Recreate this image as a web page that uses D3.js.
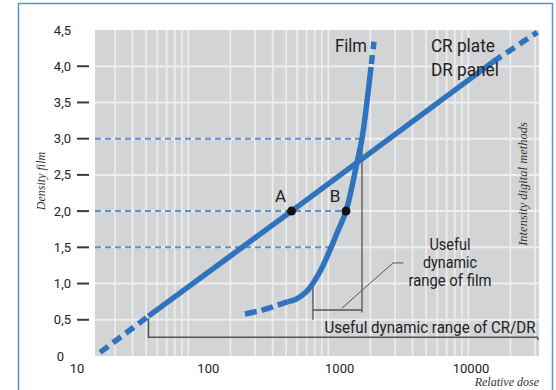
<!DOCTYPE html>
<html><head><meta charset="utf-8">
<script src="https://cdn.jsdelivr.net/npm/d3@7"></script>
<style>
body{margin:0;background:#fff;}
svg{display:block;}
.cond{font-family:"Roboto","Liberation Sans",sans-serif;}
.ser{font-family:"Liberation Serif","DejaVu Serif",serif;font-style:italic;}
</style></head>
<body><svg id="c" width="556" height="390"></svg>
<script>
// ---- data ----
const xTickValues = [10, 100, 1000, 10000];
const xTickLabels = ["10", "100", "1000", "10000"];
const yTickValues = [0, 0.5, 1, 1.5, 2, 2.5, 3, 3.5, 4, 4.5];
const yTickLabels = ["0", "0,5", "1,0", "1,5", "2,0", "2,5", "3,0", "3,5", "4,0", "4,5"];
// CR/DR straight line (dose, density)
const crDashLowDose = [15, 35];
const crDashLowDens = [0.05, 0.55];
const crSolidDose = [35, 430, 14700];
const crSolidDens = [0.55, 2.0, 4.06];
const crDashHighDose = [14700, 32000];
const crDashHighDens = [4.06, 4.47];
// Film curve
const filmDashLowDose = [190, 250, 300, 404];
const filmDashLowDens = [0.58, 0.625, 0.67, 0.75];
const filmSolidDose = [404, 460, 520, 580, 640, 720, 801, 880, 955, 1117, 1355, 1479, 1733];
const filmSolidDens = [0.75, 0.78, 0.84, 0.92, 1.03, 1.19, 1.37, 1.54, 1.70, 2.0, 2.67, 3.0, 3.99];
const filmDashHighDose = [1733, 1824];
const filmDashHighDens = [3.99, 4.34];
// Marked points
const pointNames = ["A", "B"];
const pointDose = [430, 1117];
const pointDens = [2.0, 2.0];
// Dashed reference levels (density, dose where they end)
const refDens = [3.0, 2.0, 1.5];
const refEndDose = [1479, 1117, 850];
// Dynamic ranges
const filmRangeDose = [626, 1479];
const filmRangeDens = [1.0, 3.0];
const crRangeDose = [35, 32000];

// ---- layout ----
const svg = d3.select("#c");
const W = 556, H = 390;
const plotL = 95, plotR = 539, plotT = 30, plotB = 356;
const x = d3.scaleLog().domain([10, 10000]).range([77, 471]);
const y = d3.scaleLinear().domain([0, 4.5]).range([plotB, plotT]);
// grid follows its own logarithmic spacing in the original artwork
const gx = d3.scaleLog().domain([1, 1000]).range([48.3, 468.3]);

const blue = "#2f73bf", blueDash = "#5a8fd1", gray = "#555";

// outer frame
svg.append("path").attr("d", `M18.5,${H+5} V3.5 H552.5 V${H+5}`)
  .attr("fill", "none").attr("stroke", "#5b8fcf").attr("stroke-width", 1.5);

// plot background
svg.append("rect").attr("x", plotL).attr("y", plotT).attr("width", plotR - plotL).attr("height", plotB - plotT)
  .attr("fill", "#d3d4d6");

// vertical grid
const gridVals = [];
[1, 10, 100, 1000].forEach(d => { for (let k = 1; k < 10; k++) gridVals.push(d * k); });
svg.append("g").selectAll("line").data(gridVals.filter(v => gx(v) > plotL + 2 && gx(v) < plotR - 2))
  .join("line").attr("x1", d => gx(d)).attr("x2", d => gx(d)).attr("y1", plotT).attr("y2", plotB)
  .attr("stroke", "#eeeeee").attr("stroke-width", 1.6);
// horizontal grid
svg.append("g").selectAll("line").data(yTickValues.filter(v => v > 0 && v < 4.5))
  .join("line").attr("x1", plotL).attr("x2", plotR).attr("y1", d => y(d)).attr("y2", d => y(d))
  .attr("stroke", "#eeeeee").attr("stroke-width", 2);

// y axis ticks + labels
const yAxis = svg.append("g");
yAxis.selectAll("line").data(yTickValues.filter(v => v > 0 && v < 4.5)).join("line")
  .attr("x1", 77).attr("x2", 89).attr("y1", d => y(d)).attr("y2", d => y(d))
  .attr("stroke", "#3a3a3a").attr("stroke-width", 2);
yAxis.selectAll("text").data(yTickValues).join("text").attr("class", "cond")
  .attr("x", d => d === 0 ? 64 : 71).attr("y", d => y(d)).attr("dy", "0.35em")
  .attr("text-anchor", "end").attr("font-size", 13).attr("fill", "#222")
  .text((d, i) => yTickLabels[i]);

// x axis labels
svg.append("g").selectAll("text").data(xTickValues).join("text").attr("class", "cond")
  .attr("x", d => x(d)).attr("y", 373).attr("text-anchor", "middle").attr("font-size", 13).attr("fill", "#222")
  .text((d, i) => xTickLabels[i]);

// axis titles
svg.append("text").attr("class", "ser").attr("font-size", 12).attr("fill", "#333")
  .attr("transform", `translate(45,181) rotate(-90)`).attr("text-anchor", "middle").text("Density film");
svg.append("text").attr("class", "ser").attr("font-size", 12.5).attr("fill", "#333")
  .attr("transform", `translate(527,184) rotate(-90)`).attr("text-anchor", "middle").text("Intensity digital methods");
svg.append("text").attr("class", "ser").attr("font-size", 12).attr("fill", "#333")
  .attr("x", plotR).attr("y", 386).attr("text-anchor", "end").text("Relative dose");

// dashed reference lines
svg.append("g").selectAll("line").data(refDens).join("line")
  .attr("x1", plotL).attr("x2", (d, i) => x(refEndDose[i])).attr("y1", d => y(d)).attr("y2", d => y(d))
  .attr("stroke", blueDash).attr("stroke-width", 2).attr("stroke-dasharray", "6,4");

// brackets
const br = svg.append("g").attr("stroke", gray).attr("fill", "none").attr("stroke-width", 1.3);
br.append("line").attr("x1", x(filmRangeDose[0])).attr("x2", x(filmRangeDose[0]))
  .attr("y1", y(filmRangeDens[0])).attr("y2", y(0.5));
br.append("line").attr("x1", x(filmRangeDose[1])).attr("x2", x(filmRangeDose[1]))
  .attr("y1", y(filmRangeDens[1])).attr("y2", y(0.6));
br.append("line").attr("x1", x(filmRangeDose[0])).attr("x2", x(filmRangeDose[1]))
  .attr("y1", y(0.635)).attr("y2", y(0.635));
br.append("path").attr("d", d3.line()([[x(1040), y(0.66)], [x(2550), y(1.285)], [x(3050), y(1.285)]]))
  .attr("stroke-width", 1);
br.append("path").attr("d", d3.line()([[x(crRangeDose[0]), y(0.52)], [x(crRangeDose[0]), y(0.26)], [x(crRangeDose[1]), y(0.26)], [x(crRangeDose[1]) + 1, y(0.22)]]))
  .attr("stroke-width", 1.5);

// curves
const line = d3.line().x(d => x(d[0])).y(d => y(d[1]));
const curve = d3.line().x(d => x(d[0])).y(d => y(d[1])).curve(d3.curveCatmullRom.alpha(0.5));
const zip = (a, b) => a.map((v, i) => [v, b[i]]);
function draw(gen, dose, dens, dash) {
  svg.append("path").attr("d", gen(zip(dose, dens))).attr("fill", "none").attr("stroke", blue)
    .attr("stroke-width", 5.5).attr("stroke-dasharray", dash);
}
draw(line, crDashLowDose, crDashLowDens, "10,6");
draw(line, crSolidDose, crSolidDens, null);
draw(line, crDashHighDose, crDashHighDens, "10,6");
draw(line, filmDashLowDose, filmDashLowDens, "12,5");
draw(curve, filmSolidDose, filmSolidDens, null);
draw(line, filmDashHighDose, filmDashHighDens, "0,3,9,6,8");

// points
svg.append("g").selectAll("circle").data(pointDose).join("circle")
  .attr("cx", d => x(d)).attr("cy", (d, i) => y(pointDens[i])).attr("r", 4.5).attr("fill", "#111");
svg.append("g").selectAll("text").data(pointNames).join("text").attr("class", "cond")
  .attr("x", (d, i) => x(pointDose[i]) - 11).attr("y", (d, i) => y(pointDens[i]) - 9)
  .attr("text-anchor", "middle").attr("font-size", 17).attr("fill", "#222").text(d => d);

// text labels
const lab = (t, xx, yy, size, anchor, len) => {
  const s = svg.append("text").attr("class", "cond").attr("x", xx).attr("y", yy)
    .attr("font-size", size).attr("fill", "#222").attr("text-anchor", anchor || "start").text(t);
  if (len) s.attr("textLength", len).attr("lengthAdjust", "spacingAndGlyphs");
};
lab("Film", x(1614), y(4.2), 19, "end", 32);
lab("CR plate", x(4950), y(4.2), 19, "start", 64);
lab("DR panel", x(4950), y(3.86), 19, "start", 68);
lab("Useful", x(6920), y(1.47), 16.5, "middle", 41);
lab("dynamic", x(6920), y(1.22), 16.5, "middle", 54);
lab("range of film", x(6920), y(0.96), 16.5, "middle", 83);
lab("Useful dynamic range of CR/DR", x(31000), y(0.32), 16.5, "end", 211);
</script></body></html>
